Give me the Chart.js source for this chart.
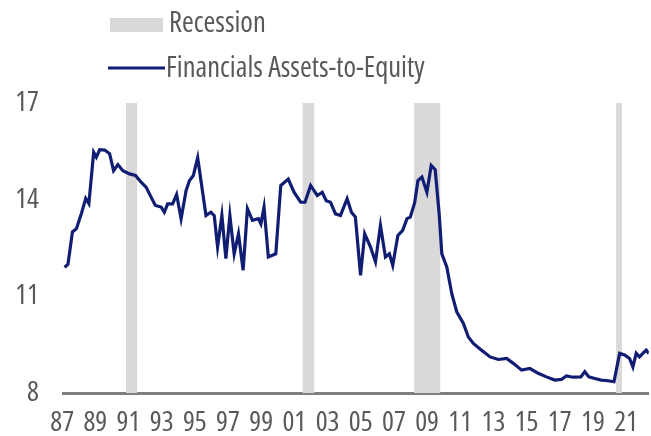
<!DOCTYPE html>
<html>
<head>
<meta charset="utf-8">
<script src="https://cdn.jsdelivr.net/npm/chart.js@4"></script>
<style>
html,body{margin:0;padding:0;background:#fff;}
#wrap{width:651px;height:436px;}
</style>
</head>
<body>
<div id="wrap"><canvas id="c" width="651" height="436"></canvas></div>
<script>
// ---- data ----
const years = [1986.85,1987.05,1987.32,1987.56,1987.86,1988.12,1988.31,1988.60,1988.76,1988.96,1989.26,1989.56,1989.80,1990.06,1990.36,1990.76,1991.12,1991.46,1991.76,1992.06,1992.32,1992.67,1992.86,1993.06,1993.36,1993.60,1993.87,1994.17,1994.37,1994.61,1994.87,1995.37,1995.67,1995.87,1996.07,1996.33,1996.57,1996.81,1997.07,1997.33,1997.61,1997.87,1998.17,1998.53,1998.68,1998.87,1999.13,1999.58,1999.88,2000.33,2000.68,2001.08,2001.34,2001.68,2002.08,2002.38,2002.62,2002.88,2003.18,2003.48,2003.88,2004.14,2004.38,2004.69,2004.94,2005.29,2005.59,2005.89,2006.19,2006.43,2006.63,2006.94,2007.23,2007.49,2007.69,2007.95,2008.15,2008.39,2008.69,2008.95,2009.19,2009.43,2009.59,2009.89,2010.19,2010.49,2010.89,2011.19,2011.49,2011.99,2012.50,2013.00,2013.50,2013.90,2014.40,2014.90,2015.40,2015.90,2016.40,2016.80,2017.10,2017.50,2017.97,2018.21,2018.45,2018.81,2019.20,2019.61,2019.97,2020.31,2020.61,2020.91,2021.11,2021.31,2021.51,2021.71,2021.91,2022.07];
const assetsToEquity = [11.90,12.00,13.00,13.10,13.57,14.04,13.88,15.47,15.32,15.55,15.54,15.43,14.90,15.09,14.90,14.80,14.75,14.54,14.39,14.08,13.82,13.77,13.61,13.87,13.87,14.16,13.41,14.28,14.59,14.75,15.30,13.51,13.61,13.50,12.53,13.51,12.17,13.51,12.32,12.94,11.81,13.72,13.36,13.41,13.25,13.77,12.22,12.32,14.44,14.64,14.23,13.92,13.92,14.44,14.13,14.23,13.97,13.92,13.56,13.51,14.03,13.61,13.46,11.65,12.94,12.53,12.07,13.20,12.22,12.32,11.96,12.89,13.05,13.41,13.46,13.90,14.59,14.70,14.23,15.06,14.93,13.56,12.32,11.91,11.08,10.52,10.16,9.74,9.54,9.33,9.12,9.04,9.07,8.92,8.71,8.76,8.61,8.50,8.40,8.42,8.53,8.49,8.50,8.66,8.50,8.45,8.40,8.38,8.35,9.23,9.18,9.07,8.81,9.23,9.12,9.23,9.33,9.23];
const recessionStart = [1990.55, 2001.20, 2007.92, 2020.10];
const recessionEnd   = [1991.22, 2001.90, 2009.50, 2020.45];
const xTickYears = [1987,1989,1991,1993,1995,1997,1999,2001,2003,2005,2007,2009,2011,2013,2015,2017,2019,2021];
const yTicks = [8, 11, 14, 17];
const legendLabels = ['Recession', 'Financials Assets-to-Equity'];

const FAMILY = '"Open Sans", "Liberation Sans", sans-serif';
const STRETCH = 'condensed';
const TEXT = '#595959';
const LINE = '#111d72';
const RECESS = '#d9d9d9';
const LABEL_SHIFT = 0.3; // year labels sit slightly before the year mark in the original

const recessionPlugin = {
  id: 'recessions',
  beforeDatasetsDraw(chart) {
    const {ctx, chartArea, scales} = chart;
    ctx.save();
    ctx.fillStyle = RECESS;
    for (let i = 0; i < recessionStart.length; i++) {
      const x0 = scales.x.getPixelForValue(recessionStart[i]);
      const x1 = scales.x.getPixelForValue(recessionEnd[i]);
      ctx.fillRect(x0, chartArea.top, x1 - x0, chartArea.bottom - chartArea.top);
    }
    ctx.restore();
  }
};

const legendPlugin = {
  id: 'customLegend',
  afterDraw(chart) {
    const ctx = chart.ctx;
    ctx.save();
    ctx.fillStyle = RECESS;
    ctx.fillRect(110, 18, 53, 14);
    ctx.strokeStyle = LINE;
    ctx.lineWidth = 3;
    ctx.beginPath();
    ctx.moveTo(108, 68);
    ctx.lineTo(165, 68);
    ctx.stroke();
    ctx.fillStyle = TEXT;
    ctx.font = STRETCH + ' 28.5px ' + FAMILY;
    ctx.textBaseline = 'alphabetic';
    ctx.textAlign = 'left';
    ctx.fillText(legendLabels[0], 169, 32);
    ctx.fillText(legendLabels[1], 166, 77);
    ctx.restore();
  }
};

const tickFont = {family: FAMILY, size: 28, weight: STRETCH};

new Chart(document.getElementById('c'), {
  type: 'line',
  data: {
    datasets: [{
      label: legendLabels[1],
      data: years.map((y, i) => ({x: y, y: assetsToEquity[i]})),
      borderColor: LINE,
      borderWidth: 3.2,
      pointRadius: 0,
      tension: 0,
      fill: false
    }]
  },
  options: {
    responsive: false,
    animation: false,
    devicePixelRatio: 1,
    layout: {padding: {top: 103, right: 0, bottom: 0, left: 0}},
    plugins: {legend: {display: false}, tooltip: {enabled: false}},
    scales: {
      x: {
        type: 'linear',
        min: 1986.75,
        max: 2022.07,
        afterFit(s) { s.height = 43; },
        afterBuildTicks(s) { s.ticks = xTickYears.map(v => ({value: v - LABEL_SHIFT})); },
        grid: {display: false, drawTicks: false},
        border: {display: true, color: '#7f7f7f', width: 3},
        ticks: {
          autoSkip: false, maxRotation: 0, padding: 13,
          color: TEXT, font: tickFont,
          callback: v => String(Math.round(v) % 100).padStart(2, '0')
        }
      },
      y: {
        min: 8,
        max: 17,
        afterFit(s) { s.width = 63; },
        afterBuildTicks(s) { s.ticks = yTicks.map(v => ({value: v})); },
        grid: {display: false, drawTicks: false},
        border: {display: false},
        ticks: {padding: 24, color: TEXT, font: tickFont}
      }
    }
  },
  plugins: [recessionPlugin, legendPlugin]
});
</script>
</body>
</html>
